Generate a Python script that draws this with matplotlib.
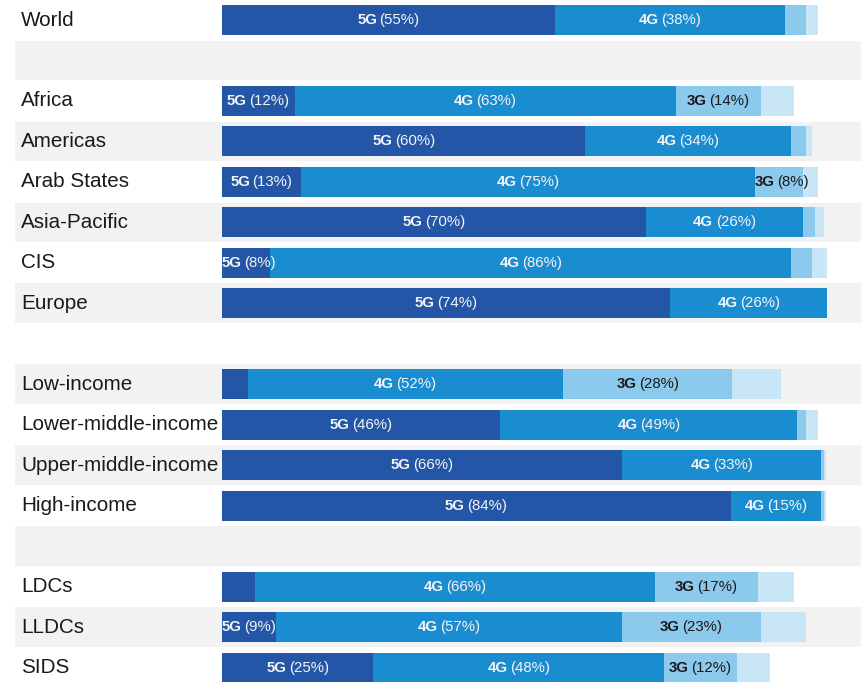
import numpy as np
import matplotlib
matplotlib.use("Agg")
import matplotlib.pyplot as plt
from matplotlib.offsetbox import TextArea, HPacker, AnnotationBbox

nan = np.nan

# Population coverage by mobile network technology (% of population)
categories = ["World", "", "Africa", "Americas", "Arab States", "Asia-Pacific", "CIS",
              "Europe", "", "Low-income", "Lower-middle-income", "Upper-middle-income",
              "High-income", "", "LDCs", "LLDCs", "SIDS"]
cov_5g = [55, nan, 12, 60, 13, 70, 8, 74, nan, 4.3, 46, 66, 84, nan, 5.5, 9, 25]
cov_4g = [38, nan, 63, 34, 75, 26, 86, 26, nan, 52, 49, 33, 15, nan, 66, 57, 48]
cov_3g = [3.5, nan, 14, 2.5, 8, 2, 3.5, 0, nan, 28, 1.5, 0.5, 0.5, nan, 17, 23, 12]
cov_2g = [2, nan, 5.5, 1, 2.5, 1.5, 2.5, 0, nan, 8, 2, 0.3, 0.3, nan, 6, 7.5, 5.5]

series_names = ["5G", "4G", "3G", "2G"]
series_values = [cov_5g, cov_4g, cov_3g, cov_2g]
series_colors = ["#2356a6", "#1a8cd0", "#8ccaed", "#c8e6f6"]
label_colors = ["#f4f4f4", "#f4f4f4", "#1a1a1a", None]

plt.rcParams["font.family"] = ["Liberation Sans", "DejaVu Sans"]

W, H, DPI = 861, 682, 100
fig = plt.figure(figsize=(W / DPI, H / DPI), dpi=DPI)
ax = fig.add_axes([0, 0, 1, 1])

px_per_pct = 6.054
x0_px = 222
pitch = 40.47
y0_px = 20
ax.set_xlim(-x0_px / px_per_pct, (W - x0_px) / px_per_pct)
ax.set_ylim((H - y0_px) / pitch, -y0_px / pitch)
ax.axis("off")

n = len(categories)
y = np.arange(n)

# alternating grey row bands
band_left = -(x0_px - 15) / px_per_pct
for i in range(n):
    if i % 2 == 1:
        ax.fill_between([band_left, 200], i - 0.49, i + 0.49, color="#f2f2f2", lw=0, zorder=0)

# category labels
for i, name in enumerate(categories):
    if name:
        ax.text(-(x0_px - 21) / px_per_pct, i, name, ha="left", va="center",
                fontsize=14.9, color="#1a1a1a", zorder=3)

# stacked bars
left = np.zeros(n)
for s, (name, vals, col, lcol) in enumerate(zip(series_names, series_values,
                                                 series_colors, label_colors)):
    vals = np.array(vals, dtype=float)
    mask = ~np.isnan(vals)
    ax.barh(y[mask], vals[mask], left=left[mask], height=0.74, color=col,
            edgecolor="none", zorder=2)
    if lcol is not None:
        for i in np.where(mask)[0]:
            v = vals[i]
            if v >= 7.5:
                pct = f"({v:.0f}%)"
                box = HPacker(children=[
                    TextArea(name, textprops=dict(fontsize=10.8, fontweight="bold", color=lcol)),
                    TextArea(pct, textprops=dict(fontsize=10.8, color=lcol)),
                ], align="baseline", pad=0, sep=1.8)
                if v < 10:
                    xy, align = (left[i], i), (0.0, 0.5)
                else:
                    xy, align = (left[i] + v / 2, i), (0.5, 0.5)
                ab = AnnotationBbox(box, xy, xycoords="data", box_alignment=align,
                                    frameon=False, pad=0, zorder=4)
                ax.add_artist(ab)
    left[mask] += vals[mask]

fig.savefig("out.png", dpi=DPI, facecolor="white")
